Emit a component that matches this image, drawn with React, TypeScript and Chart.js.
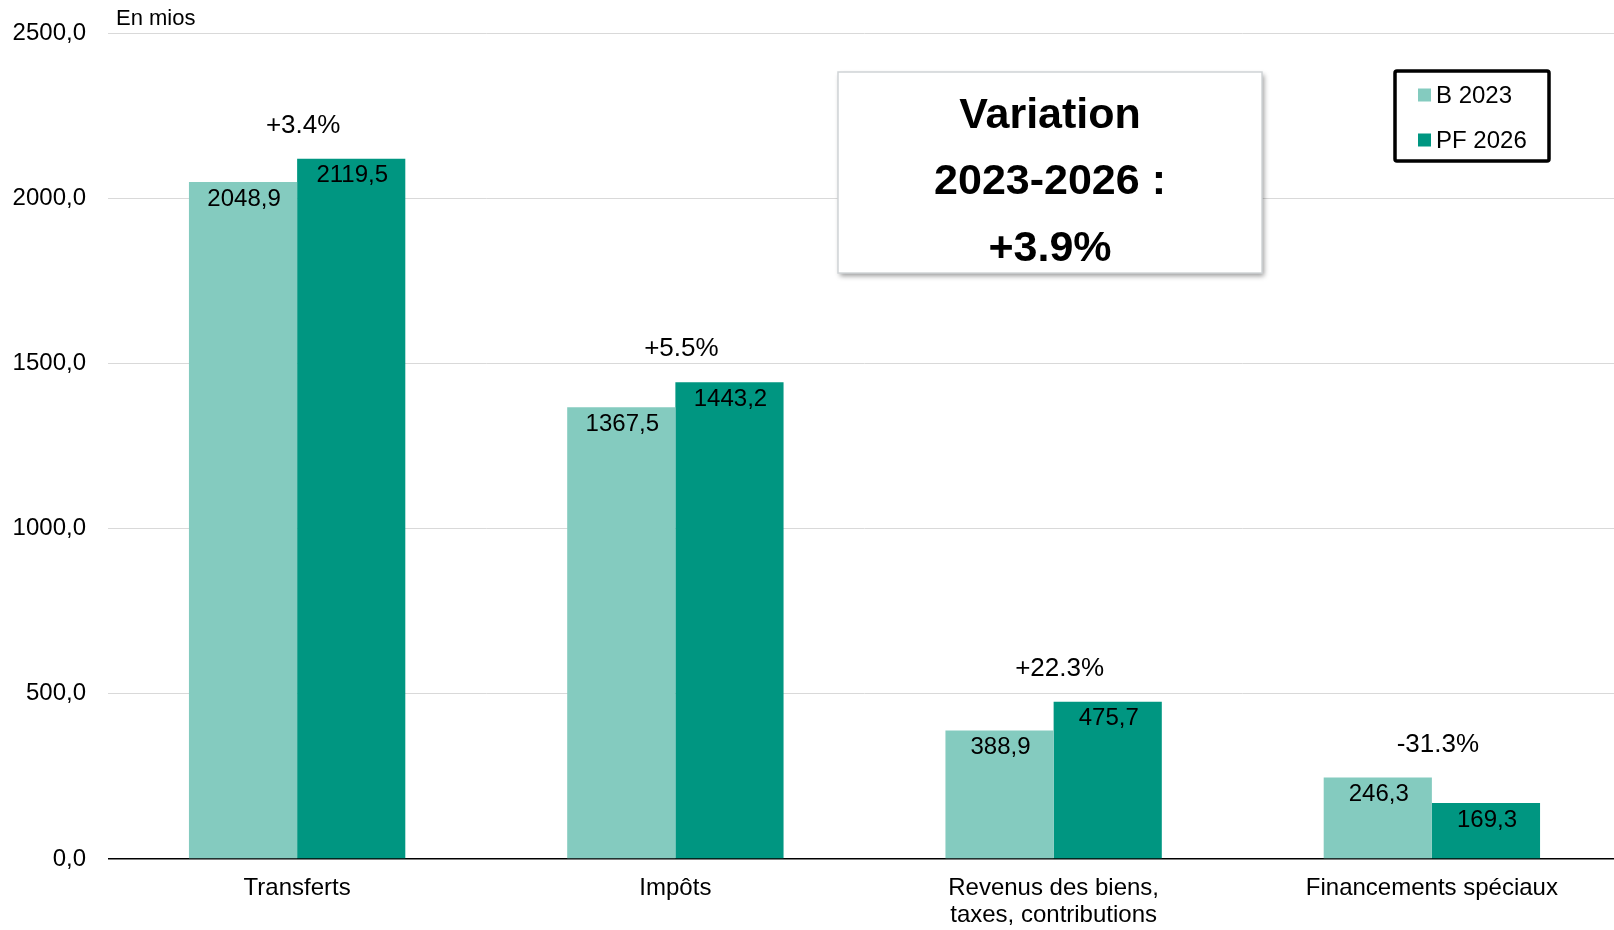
import React, { useEffect, useRef } from "react";
import { Chart, registerables } from "chart.js";

Chart.register(...registerables);

const categories: (string | string[])[] = [
  "Transferts",
  "Impôts",
  ["Revenus des biens,", "taxes, contributions"],
  "Financements spéciaux",
];
const seriesNames = ["B 2023", "PF 2026"];
const valuesB2023 = [2048.9, 1367.5, 388.9, 246.3];
const valuesPF2026 = [2119.5, 1443.2, 475.7, 169.3];
const yTicks = [0, 500, 1000, 1500, 2000, 2500];
const unitLabel = "En mios";
const boxTitle = ["Variation", "2023-2026 :"];

const LIGHT = "#84CBBF";
const DARK = "#009681";
const FONT = "'Liberation Sans', Arial, sans-serif";

const fmt = (v: number) => v.toFixed(1).replace(".", ",");
const pct = (a: number, b: number) => {
  const p = (b / a - 1) * 100;
  return (p >= 0 ? "+" : "") + p.toFixed(1) + "%";
};

const overlayPlugin = {
  id: "overlay",
  afterDatasetsDraw(chart: any) {
    const ctx = chart.ctx as CanvasRenderingContext2D;
    const yScale = chart.scales.y;
    const xScale = chart.scales.x;
    ctx.save();
    // value labels inside bars
    ctx.fillStyle = "#000";
    ctx.font = `24px ${FONT}`;
    ctx.textAlign = "center";
    ctx.textBaseline = "middle";
    chart.data.datasets.forEach((ds: any, di: number) => {
      const meta = chart.getDatasetMeta(di);
      meta.data.forEach((el: any, i: number) => {
        ctx.fillText(fmt(ds.data[i]), el.x + 1, el.y + 17);
      });
    });
    // percent labels
    ctx.font = `26px ${FONT}`;
    valuesB2023.forEach((a, i) => {
      const b = valuesPF2026[i];
      const y = yScale.getPixelForValue(Math.max(a, b)) - 33;
      ctx.fillText(pct(a, b), xScale.getPixelForValue(i) + 6, y);
    });
    // unit label
    ctx.font = `22px ${FONT}`;
    ctx.textAlign = "left";
    ctx.fillText(unitLabel, 116, 19);

    // variation box
    const sumA = valuesB2023.reduce((s, v) => s + v, 0);
    const sumB = valuesPF2026.reduce((s, v) => s + v, 0);
    ctx.save();
    ctx.shadowColor = "rgba(0,0,0,0.4)";
    ctx.shadowBlur = 5;
    ctx.shadowOffsetX = 2;
    ctx.shadowOffsetY = 3;
    ctx.fillStyle = "#fff";
    ctx.fillRect(838, 72, 424, 201);
    ctx.restore();
    ctx.strokeStyle = "#d0d4d6";
    ctx.lineWidth = 1.5;
    ctx.strokeRect(838, 72, 424, 201);
    ctx.fillStyle = "#000";
    ctx.font = `bold 43px ${FONT}`;
    ctx.textAlign = "center";
    ctx.fillText(boxTitle[0], 1050, 116);
    ctx.fillText(boxTitle[1], 1050, 182);
    ctx.fillText(pct(sumA, sumB), 1050, 249);

    // legend
    ctx.strokeStyle = "#000";
    ctx.lineWidth = 3.5;
    ctx.beginPath();
    (ctx as any).roundRect
      ? (ctx as any).roundRect(1395, 71, 154, 90, 2)
      : ctx.rect(1395, 71, 154, 90);
    ctx.stroke();
    const colors = [LIGHT, DARK];
    const rows = [95, 140];
    ctx.font = `24px ${FONT}`;
    ctx.textAlign = "left";
    seriesNames.forEach((n, i) => {
      ctx.fillStyle = colors[i];
      ctx.fillRect(1418, rows[i] - 6.5, 13, 13);
      ctx.fillStyle = "#000";
      ctx.fillText(n, 1436, rows[i] + 1);
    });
    ctx.restore();
  },
};

export default function App() {
  const ref = useRef<HTMLCanvasElement>(null);
  useEffect(() => {
    if (!ref.current) return;
    const chart = new Chart(ref.current, {
      type: "bar",
      data: {
        labels: categories,
        datasets: [
          { label: seriesNames[0], data: valuesB2023, backgroundColor: LIGHT, borderWidth: 0 },
          { label: seriesNames[1], data: valuesPF2026, backgroundColor: DARK, borderWidth: 0 },
        ],
      },
      options: {
        animation: false,
        responsive: false,
        maintainAspectRatio: false,
        layout: { padding: { top: 33, right: 0, bottom: 0, left: 0 } },
        plugins: { legend: { display: false }, tooltip: { enabled: false } },
        datasets: { bar: { barPercentage: 1, categoryPercentage: 0.572 } },
        scales: {
          x: {
            grid: { display: false },
            border: { display: false },
            ticks: {
              color: "#000",
              font: { family: FONT, size: 24, lineHeight: 1.12 },
              padding: 8,
              maxRotation: 0,
              autoSkip: false,
            },
            afterFit: (s: any) => {
              s.height = 71;
            },
          },
          y: {
            min: 0,
            max: 2500,
            afterBuildTicks: (s: any) => {
              s.ticks = yTicks.map((v) => ({ value: v }));
            },
            grid: {
              drawTicks: false,
              color: (c: any) => (c.tick && c.tick.value === 0 ? "#000" : "#d9d9d9"),
              lineWidth: (c: any) => (c.tick && c.tick.value === 0 ? 1.5 : 1),
            },
            border: { display: false },
            ticks: {
              color: "#000",
              font: { family: FONT, size: 24, lineHeight: 1 },
              padding: 22,
              callback: (v: any) => fmt(Number(v)),
            },
            afterFit: (s: any) => {
              s.width = 108;
              s.paddingTop = 0;
              s.paddingBottom = 0;
            },
          },
        },
      },
      plugins: [overlayPlugin],
    });
    return () => chart.destroy();
  }, []);
  return (
    <div
      style={{
        position: "fixed",
        left: 0,
        top: 0,
        width: 1614,
        height: 930,
        overflow: "hidden",
        background: "#fff",
      }}
    >
      <canvas ref={ref} width={1621} height={930} style={{ width: 1621, height: 930, display: "block" }} />
    </div>
  );
}
